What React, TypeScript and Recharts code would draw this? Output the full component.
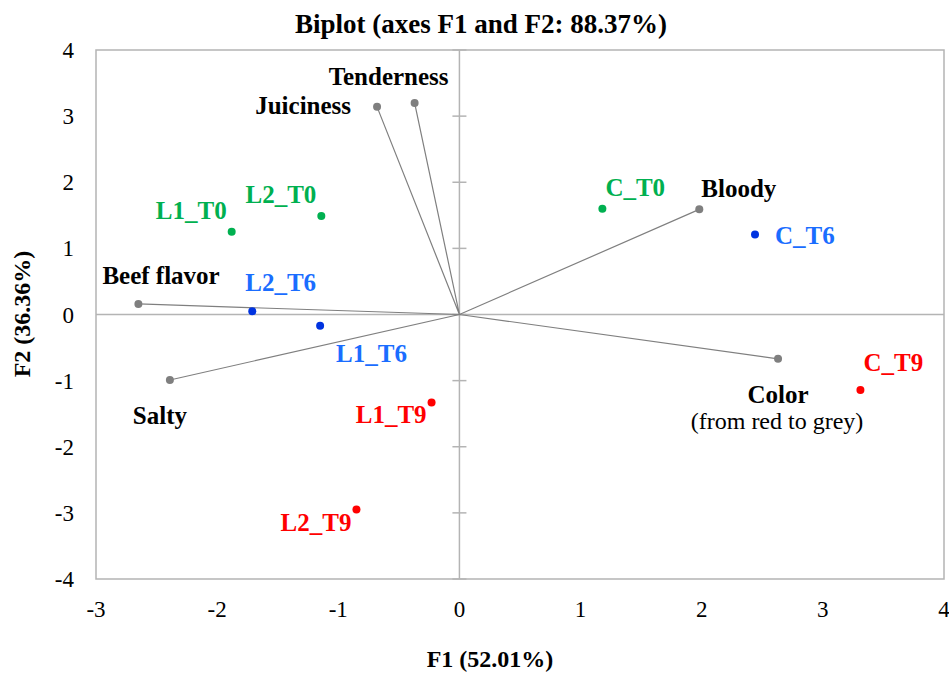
import { ScatterChart, Scatter, XAxis, YAxis, ReferenceLine, ReferenceArea } from 'recharts';

// PCA biplot: variable loadings + observation scores on F1/F2
const xTicks = [-3, -2, -1, 0, 1, 2, 3, 4];
const yTicks = [-4, -3, -2, -1, 0, 1, 2, 3, 4];

const variables = ['Juiciness', 'Tenderness', 'Bloody', 'Beef flavor', 'Salty', 'Color'];
const varF1 = [-0.68, -0.37, 1.98, -2.65, -2.39, 2.63];
const varF2 = [3.14, 3.2, 1.59, 0.16, -0.99, -0.67];

const observations = ['L1_T0', 'L2_T0', 'C_T0', 'C_T6', 'L2_T6', 'L1_T6', 'C_T9', 'L1_T9', 'L2_T9'];
const obsF1 = [-1.88, -1.14, 1.18, 2.44, -1.71, -1.15, 3.31, -0.23, -0.85];
const obsF2 = [1.25, 1.49, 1.6, 1.21, 0.05, -0.17, -1.14, -1.33, -2.95];

const FONT = '"Liberation Serif", "Times New Roman", serif';
const GRID = '#b4b4b4';
const VEC = '#7f7f7f';
const LABEL_SIZE = 25;

const groupColors: Record<string, { dot: string; text: string }> = {
  T0: { dot: '#00b050', text: '#00b050' },
  T6: { dot: '#0033e0', text: '#1a6dff' },
  T9: { dot: '#ff0000', text: '#ff0000' },
};

// label placement relative to the marker: [anchor, dx, dy(baseline)]
const labelLayout: Record<string, [string, number, number]> = {
  Juiciness: ['end', -26, 7],
  Tenderness: ['middle', -26, -18],
  Bloody: ['start', 2, -12],
  'Beef flavor': ['start', -36, -20],
  Salty: ['middle', -10, 44],
  Color: ['middle', 0, 44],
  L1_T0: ['end', -5, -13],
  L2_T0: ['end', -5, -13],
  C_T0: ['start', 3, -13],
  C_T6: ['start', 20, 10],
  L2_T6: ['start', -7, -20],
  L1_T6: ['start', 16, 36],
  C_T9: ['start', 3, -19],
  L1_T9: ['end', -5, 21],
  L2_T9: ['end', -5, 21],
};

// origin -> variable -> origin -> variable ... so a joint line draws the star
const vectorData = variables.flatMap((name, i) => [
  { x: 0, y: 0, name: '' },
  { x: varF1[i], y: varF2[i], name },
]);

const obsData = observations.map((name, i) => ({
  x: obsF1[i],
  y: obsF2[i],
  name,
  group: name.slice(-2),
}));

const tickHalf = 7 / 121; // ~7px either side of the F1=0 line

function XTick(props: any) {
  const { x, y, payload } = props;
  return (
    <text x={x} y={y + 17} textAnchor="middle" fontFamily={FONT} fontSize={23} fill="#000">
      {payload.value}
    </text>
  );
}

function YTick(props: any) {
  const { x, y, payload } = props;
  return (
    <text x={x} y={y + 8} textAnchor="end" fontFamily={FONT} fontSize={23} fill="#000">
      {payload.value}
    </text>
  );
}

function VectorShape(props: any) {
  const { cx, cy, payload } = props;
  if (!payload || !payload.name) return <g />;
  const [anchor, dx, dy] = labelLayout[payload.name];
  return (
    <g>
      <circle cx={cx} cy={cy} r={4} fill={VEC} />
      <text
        x={cx + dx}
        y={cy + dy}
        textAnchor={anchor as any}
        fontFamily={FONT}
        fontSize={LABEL_SIZE}
        fontWeight="bold"
        fill="#000"
      >
        {payload.name}
      </text>
      {payload.name === 'Color' && (
        <text x={cx - 1} y={cy + 70} textAnchor="middle" fontFamily={FONT} fontSize={24} fill="#000">
          (from red to grey)
        </text>
      )}
    </g>
  );
}

function ObsShape(props: any) {
  const { cx, cy, payload } = props;
  const c = groupColors[payload.group];
  const [anchor, dx, dy] = labelLayout[payload.name];
  return (
    <g>
      <circle cx={cx} cy={cy} r={4} fill={c.dot} />
      <text
        x={cx + dx}
        y={cy + dy}
        textAnchor={anchor as any}
        fontFamily={FONT}
        fontSize={LABEL_SIZE}
        fontWeight="bold"
        fill={c.text}
      >
        {payload.name}
      </text>
    </g>
  );
}

export default function App() {
  return (
    <div style={{ position: 'absolute', left: 0, top: 0, width: 949, height: 673, background: '#fff' }}>
      <ScatterChart width={949} height={673} margin={{ top: 50, right: 5, bottom: 0, left: 0 }}>
        <XAxis
          type="number"
          dataKey="x"
          domain={[-3, 4]}
          ticks={xTicks}
          allowDataOverflow
          height={94}
          axisLine={false}
          tickLine={false}
          tickSize={0}
          tickMargin={21}
          tick={<XTick />}
          interval={0}
        />
        <YAxis
          type="number"
          dataKey="y"
          domain={[-4, 4]}
          ticks={yTicks}
          allowDataOverflow
          width={96}
          axisLine={false}
          tickLine={false}
          tickSize={0}
          tickMargin={22}
          tick={<YTick />}
          interval={0}
        />
        <ReferenceArea x1={-3} x2={4} y1={-4} y2={4} fill="none" stroke={GRID} strokeWidth={1.5} />
        <ReferenceLine x={0} stroke={GRID} strokeWidth={1.5} />
        <ReferenceLine y={0} stroke={GRID} strokeWidth={1.5} />
        {yTicks.map((v) => (
          <ReferenceLine
            key={v}
            segment={[
              { x: -tickHalf, y: v },
              { x: tickHalf, y: v },
            ]}
            stroke={GRID}
            strokeWidth={1.5}
          />
        ))}
        <Scatter
          data={vectorData}
          line={{ stroke: VEC, strokeWidth: 1.2 }}
          lineType="joint"
          shape={VectorShape}
          isAnimationActive={false}
        />
        <Scatter data={obsData} shape={ObsShape} isAnimationActive={false} />
      </ScatterChart>
      <svg
        width={949}
        height={673}
        style={{ position: 'absolute', left: 0, top: 0, pointerEvents: 'none' }}
      >
        <text x={481} y={33} textAnchor="middle" fontFamily={FONT} fontSize={27} fontWeight="bold">
          Biplot (axes F1 and F2: 88.37%)
        </text>
        <text x={490} y={667} textAnchor="middle" fontFamily={FONT} fontSize={24} fontWeight="bold">
          F1 (52.01%)
        </text>
        <text
          x={0}
          y={0}
          transform="translate(30,314) rotate(-90)"
          textAnchor="middle"
          fontFamily={FONT}
          fontSize={24}
          fontWeight="bold"
        >
          F2 (36.36%)
        </text>
      </svg>
    </div>
  );
}
